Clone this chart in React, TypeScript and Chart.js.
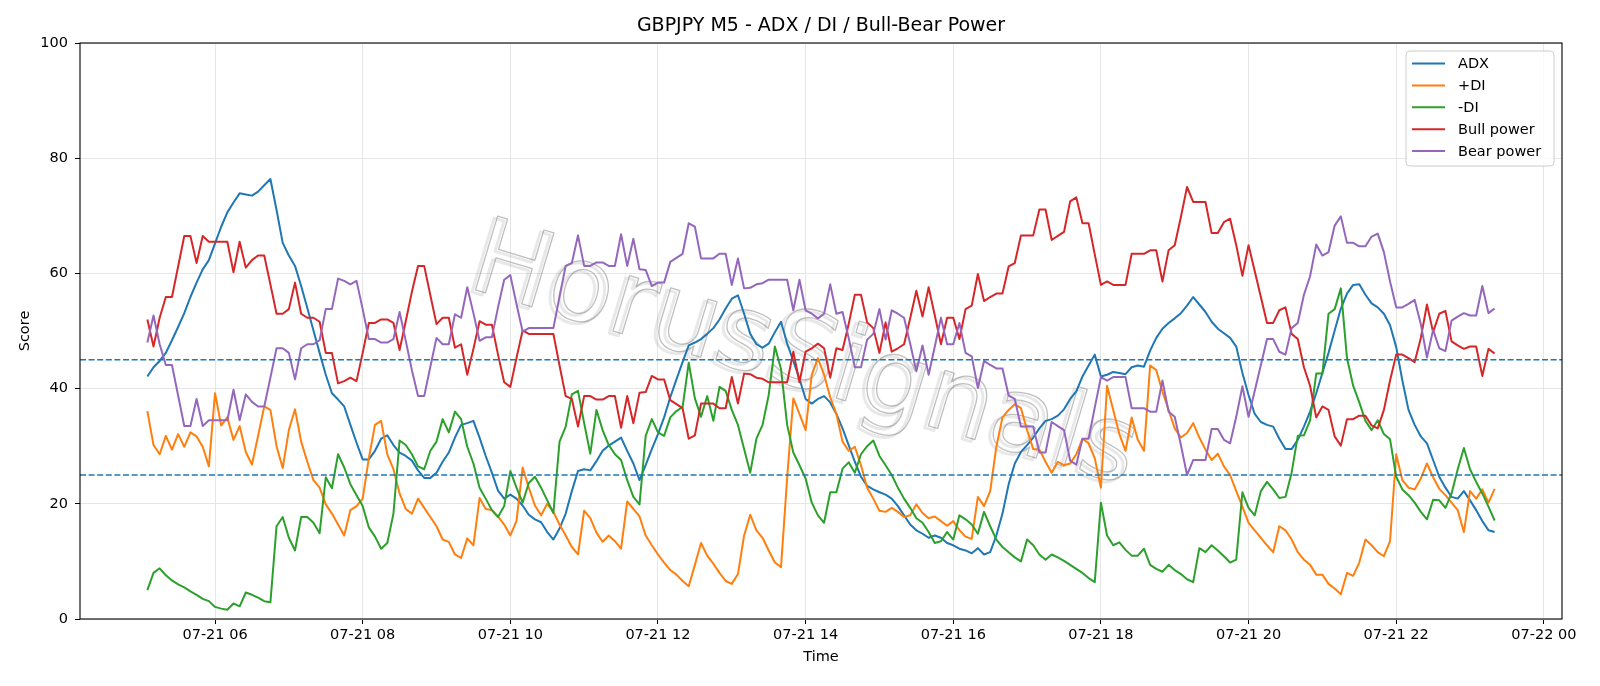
import React, { useEffect, useRef } from "react";
import { Chart, registerables } from "chart.js";

Chart.register(...registerables);

// ---- data -----------------------------------------------------------
const START_MINUTE = 5 * 60 + 5; // first bar 07-21 05:05
const STEP_MINUTES = 5; // M5

const xTickHours = [6, 8, 10, 12, 14, 16, 18, 20, 22, 24];
const xTickLabels = [
  "07-21 06", "07-21 08", "07-21 10", "07-21 12", "07-21 14",
  "07-21 16", "07-21 18", "07-21 20", "07-21 22", "07-22 00",
];
const thresholds = [25, 45];

const adx = [
  42.1, 43.7, 44.8, 46.2, 48.4, 50.7, 53.1, 55.9, 58.4, 60.7,
  62.3, 65.2, 68.1, 70.6, 72.3, 73.9, 73.7, 73.5, 74.2, 75.3,
  76.4, 71.0, 65.3, 63.1, 61.3,
  57.8, 54.0, 50.1, 46.2, 42.4, 39.2, 38.1, 36.9, 33.7, 30.6,
  27.7, 27.7, 29.2, 31.3, 31.9, 30.2, 28.9, 28.3, 27.5, 25.8,
  24.5, 24.5, 25.4, 27.3, 28.9,
  31.5, 33.7, 34.0, 34.4, 31.5, 28.3, 25.4, 22.3, 20.9, 21.6,
  20.9, 19.7, 18.1, 17.3, 16.8, 15.1, 13.8, 15.7, 18.3, 22.2,
  25.7, 26.0, 25.8, 27.4, 29.2, 30.1,
  30.8, 31.5, 29.2, 27.0, 24.1, 26.7, 29.5, 32.1, 35.0, 38.5,
  41.6, 44.6, 47.5, 48.0, 48.6, 49.5, 50.5, 52.0, 53.9, 55.6,
  56.2, 53.0, 49.5, 47.7, 47.1,
  47.8, 49.8, 51.6, 47.8, 44.8, 41.7, 38.2, 37.4, 38.2, 38.7,
  37.6, 35.6, 33.1, 30.2, 27.3, 24.7, 23.1, 22.5, 22.0, 21.6,
  20.9, 19.6, 18.0, 16.4, 15.4,
  14.8, 14.1, 14.5, 14.1, 13.2, 12.8, 12.2, 11.9, 11.4, 12.3,
  11.2, 11.6, 14.5, 18.3, 23.4, 27.0, 29.0, 30.2, 31.5, 33.1,
  34.4, 34.7, 35.3, 36.4, 38.2,
  39.5, 42.1, 44.0, 45.9, 42.1, 42.4, 42.9, 42.7, 42.5, 43.7,
  44.0, 43.8, 46.6, 48.8, 50.4, 51.4, 52.2, 53.1, 54.4, 55.9,
  54.6, 53.3, 51.6, 50.4, 49.6,
  48.8, 47.3, 42.7, 38.9, 35.6, 34.2, 33.7, 33.4, 31.3, 29.5,
  29.5, 31.1, 33.4, 36.0, 39.2, 42.7, 46.2, 50.1, 53.9, 56.5,
  58.0, 58.1, 56.3, 54.8, 54.1,
  53.0, 51.0, 47.2, 41.4, 36.3, 33.7, 31.7, 30.5, 27.6, 24.7,
  22.8, 21.2, 20.9, 22.2, 20.6, 18.9, 17.0, 15.4, 15.1,
];

const plusDI = [
  36.1, 30.2, 28.6, 31.8, 29.4, 32.1, 29.9, 32.4, 31.7, 29.9,
  26.5, 39.2, 33.6, 35.0, 31.1, 33.5, 29.0, 26.8, 31.8, 36.9,
  36.3, 30.0, 26.2, 32.8, 36.4,
  30.8, 27.3, 24.1, 22.8, 19.9, 18.3, 16.4, 14.5, 18.9, 19.6,
  20.9, 27.9, 33.7, 34.4, 28.6, 26.0, 21.8, 19.1, 18.3, 20.9,
  19.3, 17.7, 16.1, 13.8, 13.4,
  11.2, 10.6, 14.0, 12.8, 21.0, 19.1, 18.9, 17.8, 16.4, 14.5,
  17.0, 26.3, 22.8, 19.7, 18.0, 20.0, 18.6, 16.4, 14.5, 12.5,
  11.2, 18.8, 17.5, 15.0, 13.4, 14.5,
  13.5, 12.2, 20.4, 19.1, 17.8, 14.5, 12.8, 11.2, 9.8, 8.5,
  7.7, 6.6, 5.7, 9.4, 13.2, 11.0, 9.6, 8.0, 6.6, 6.1,
  7.8, 14.5, 18.1, 15.4, 14.1,
  11.9, 9.8, 9.0, 24.5, 38.3, 35.6, 32.8, 42.4, 45.3, 42.4,
  38.5, 35.6, 30.8, 29.2, 29.9, 26.7, 22.8, 20.9, 18.8, 18.6,
  19.3, 18.6, 17.7, 18.0, 19.9,
  18.4, 17.5, 17.8, 17.0, 16.2, 17.0, 15.4, 14.3, 13.9, 21.2,
  19.6, 22.2, 29.9, 35.0, 36.3, 37.3, 36.6, 32.8, 29.5, 29.4,
  27.3, 25.4, 27.3, 26.7, 27.0,
  28.6, 31.3, 30.5, 27.9, 22.8, 40.5, 36.3, 32.1, 29.2, 35.0,
  31.1, 29.2, 44.0, 43.2, 39.5, 36.3, 33.1, 31.5, 32.3, 34.0,
  31.5, 29.4, 27.6, 28.7, 26.5,
  25.0, 22.2, 19.5, 16.7, 15.4, 14.1, 12.8, 11.6, 16.1, 15.4,
  13.8, 11.6, 10.3, 9.4, 7.7, 7.7, 6.1, 5.3, 4.3, 8.0,
  7.5, 9.8, 13.8, 12.8, 11.6,
  10.9, 13.5, 28.6, 24.1, 22.8, 22.5, 24.4, 27.0, 24.6, 22.6,
  21.5, 20.2, 18.9, 15.1, 22.2, 20.9, 22.5, 20.2, 22.6,
];

const minusDI = [
  5.0, 8.0, 8.8, 7.6, 6.7, 6.0, 5.5, 4.8, 4.2, 3.5,
  3.1, 2.1, 1.8, 1.6, 2.7, 2.2, 4.6, 4.2, 3.7, 3.1,
  2.9, 16.1, 17.7, 14.1, 11.9,
  17.7, 17.7, 16.7, 14.9, 24.6, 22.7, 28.6, 26.3, 23.4, 21.5,
  19.6, 15.9, 14.3, 12.2, 13.2, 18.3, 31.0, 30.2, 28.6, 26.5,
  26.0, 29.2, 30.8, 34.7, 32.4,
  36.0, 34.7, 29.9, 27.0, 22.8, 20.9, 18.9, 17.7, 19.6, 25.7,
  22.8, 20.2, 23.6, 24.7, 22.8, 20.6, 18.4, 30.8, 33.4, 39.0,
  39.6, 34.0, 28.7, 36.3, 32.8, 30.2,
  28.6, 27.6, 24.1, 21.2, 19.9, 31.8, 34.7, 32.4, 31.8, 35.0,
  36.1, 36.8, 44.5, 38.3, 35.1, 38.7, 34.4, 40.3, 39.6, 36.3,
  33.7, 29.5, 25.4, 31.3, 33.7,
  38.9, 47.3, 43.4, 33.7, 28.9, 26.7, 24.4, 20.2, 18.0, 16.7,
  22.0, 22.0, 26.1, 27.2, 25.4, 28.6, 30.0, 31.0, 28.3, 26.7,
  25.0, 22.8, 20.9, 19.3, 17.5,
  16.7, 15.1, 13.2, 13.5, 15.1, 13.8, 18.0, 17.3, 16.4, 14.8,
  18.6, 16.1, 13.8, 12.5, 11.6, 10.7, 10.0, 13.8, 12.8, 11.2,
  10.3, 11.2, 10.7, 10.1, 9.4,
  8.7, 8.0, 7.1, 6.4, 20.2, 14.5, 12.8, 13.3, 12.0, 11.0,
  11.0, 12.2, 9.4, 8.7, 8.2, 9.4, 8.5, 7.8, 6.9, 6.4,
  12.3, 11.6, 12.8, 11.9, 10.9,
  9.8, 10.3, 22.0, 19.3, 18.0, 22.2, 23.8, 22.5, 21.0, 21.2,
  25.4, 31.8, 31.9, 34.5, 42.6, 42.6, 53.0, 53.8, 57.4, 45.3,
  40.5, 37.6, 34.4, 32.8, 34.5,
  32.1, 31.2, 24.7, 22.5, 21.5, 20.2, 18.6, 17.3, 20.7, 20.6,
  19.3, 21.8, 26.0, 29.7, 26.0, 23.8, 21.8, 19.5, 17.1,
];

const bullPower = [
  52.0, 47.3, 52.3, 55.9, 55.9, 61.2, 66.5, 66.5, 61.8, 66.5,
  65.5, 65.5, 65.5, 65.5, 60.2, 65.5, 61.0, 62.3, 63.1, 63.1,
  58.1, 53.0, 53.0, 53.8, 58.4,
  53.0, 52.3, 52.3, 51.6, 46.2, 46.2, 40.9, 41.3, 41.9, 41.3,
  46.2, 51.4, 51.4, 52.0, 52.0, 51.4, 46.7, 51.7, 56.8, 61.3,
  61.3, 56.2, 51.2, 52.3, 52.3,
  47.1, 47.7, 42.4, 46.9, 51.7, 51.1, 51.1, 45.9, 41.1, 40.3,
  45.3, 50.1, 49.5, 49.5, 49.5, 49.5, 49.5, 44.0, 38.7, 38.2,
  33.4, 38.7, 38.7, 38.1, 38.1, 38.7,
  38.7, 33.2, 38.7, 34.0, 39.3, 39.4, 42.2, 41.6, 41.6, 38.0,
  37.3, 36.6, 31.3, 31.9, 37.4, 37.4, 37.4, 36.6, 36.6, 42.0,
  37.4, 42.6, 42.5, 41.9, 41.7,
  41.1, 41.1, 41.1, 41.1, 46.4, 41.1, 46.4, 47.0, 47.8, 47.0,
  41.9, 47.0, 46.7, 51.2, 56.3, 56.3, 51.5, 50.5, 46.2, 51.5,
  46.4, 47.0, 47.7, 52.2, 57.0,
  52.5, 57.6, 52.7, 47.7, 52.3, 52.3, 48.6, 53.8, 54.4, 59.9,
  55.2, 55.9, 56.5, 56.5, 61.2, 61.8, 66.6, 66.6, 66.6, 71.1,
  71.1, 65.8, 66.5, 67.2, 72.5,
  73.2, 68.7, 68.7, 63.3, 58.0, 58.6, 58.0, 58.0, 58.0, 63.4,
  63.4, 63.4, 64.0, 64.0, 58.6, 64.0, 64.9, 69.8, 75.0, 72.4,
  72.4, 72.4, 67.0, 67.0, 68.9,
  69.5, 64.9, 59.6, 64.9, 60.4, 55.9, 51.4, 51.4, 53.6, 54.1,
  49.5, 48.6, 43.7, 40.5, 35.0, 36.9, 36.3, 31.7, 30.1, 34.7,
  34.7, 35.3, 35.3, 33.6, 33.1,
  36.3, 41.4, 45.9, 45.9, 45.3, 44.6, 48.8, 54.6, 49.8, 53.0,
  53.5, 48.2, 47.5, 46.9, 47.3, 47.3, 42.2, 46.9, 46.1,
];

const bearPower = [
  48.0, 52.7, 47.7, 44.1, 44.1, 38.8, 33.5, 33.5, 38.2, 33.5,
  34.5, 34.5, 34.5, 34.5, 39.8, 34.5, 39.0, 37.7, 36.9, 36.9,
  41.9, 47.0, 47.0, 46.2, 41.6,
  47.0, 47.7, 47.7, 48.4, 53.8, 53.8, 59.1, 58.7, 58.1, 58.7,
  53.8, 48.6, 48.6, 48.0, 48.0, 48.6, 53.3, 48.3, 43.2, 38.7,
  38.7, 43.8, 48.8, 47.7, 47.7,
  52.9, 52.3, 57.6, 53.1, 48.3, 48.9, 48.9, 54.1, 58.9, 59.7,
  54.7, 49.9, 50.5, 50.5, 50.5, 50.5, 50.5, 56.0, 61.3, 61.8,
  66.6, 61.3, 61.3, 61.9, 61.9, 61.3,
  61.3, 66.8, 61.3, 66.0, 60.7, 60.6, 57.8, 58.4, 58.4, 62.0,
  62.7, 63.4, 68.7, 68.1, 62.6, 62.6, 62.6, 63.4, 63.4, 58.0,
  62.6, 57.4, 57.5, 58.1, 58.3,
  58.9, 58.9, 58.9, 58.9, 53.6, 58.9, 53.6, 53.0, 52.2, 53.0,
  58.1, 53.0, 53.3, 48.8, 43.7, 43.7, 48.5, 49.5, 53.8, 48.5,
  53.6, 53.0, 52.3, 47.8, 43.0,
  47.5, 42.4, 47.3, 52.3, 47.7, 47.7, 51.4, 46.2, 45.6, 40.1,
  44.8, 44.1, 43.5, 43.5, 38.8, 38.2, 33.4, 33.4, 33.4, 28.9,
  28.9, 34.2, 33.5, 32.8, 27.5,
  26.8, 31.3, 31.3, 36.7, 42.0, 41.4, 42.0, 42.0, 42.0, 36.6,
  36.6, 36.6, 36.0, 36.0, 41.4, 36.0, 35.1, 30.2, 25.0, 27.6,
  27.6, 27.6, 33.0, 33.0, 31.1,
  30.5, 35.1, 40.4, 35.1, 39.6, 44.1, 48.6, 48.6, 46.4, 45.9,
  50.5, 51.4, 56.3, 59.5, 65.0, 63.1, 63.7, 68.3, 69.9, 65.3,
  65.3, 64.7, 64.7, 66.4, 66.9,
  63.7, 58.6, 54.1, 54.1, 54.7, 55.4, 51.2, 45.4, 50.2, 47.0,
  46.5, 51.8, 52.5, 53.1, 52.7, 52.7, 57.8, 53.1, 53.9,
];

const seriesNames = ["ADX", "+DI", "-DI", "Bull power", "Bear power"];
const seriesColors = ["#1f77b4", "#ff7f0e", "#2ca02c", "#d62728", "#9467bd"];
const seriesValues = [adx, plusDI, minusDI, bullPower, bearPower];

const TITLE = "GBPJPY M5 - ADX / DI / Bull-Bear Power";
const WATERMARK = "HorusSignals";

// time of each bar in hours since 07-21 00:00
const timeHours = adx.map((_, i) => (START_MINUTE + i * STEP_MINUTES) / 60);
const spanH = timeHours[timeHours.length - 1] - timeHours[0];
const X_MIN = timeHours[0] - spanH * 0.05;
const X_MAX = timeHours[timeHours.length - 1] + spanH * 0.05;

const FONT = '"DejaVu Sans", "Liberation Sans", sans-serif';
const TICK_PX = 14.5;

const decorPlugin = {
  id: "decor",
  beforeDatasetsDraw(chart: any) {
    const { ctx, chartArea: a } = chart;
    ctx.save();
    ctx.beginPath();
    ctx.rect(a.left, a.top, a.right - a.left, a.bottom - a.top);
    ctx.clip();
    ctx.font = `100px ${FONT}`;
    const w = ctx.measureText(WATERMARK).width;
    const size = (100 * 690) / w;
    ctx.font = `${size}px ${FONT}`;
    ctx.translate(796, 386);
    ctx.rotate((16.7 * Math.PI) / 180);
    ctx.textAlign = "center";
    ctx.textBaseline = "alphabetic";
    ctx.lineJoin = "round";
    ctx.lineWidth = 3;
    ctx.strokeStyle = "rgba(0,0,0,0.09)";
    ctx.strokeText(WATERMARK, -3, 3);
    ctx.lineWidth = 1.3;
    ctx.strokeStyle = "rgba(130,130,130,0.5)";
    ctx.strokeText(WATERMARK, 0, 0);
    ctx.restore();
  },
  afterDatasetsDraw(chart: any) {
    const { ctx, chartArea: a, scales } = chart;
    const ys = scales.y;
    ctx.save();
    ctx.strokeStyle = "#1f77b4";
    ctx.lineWidth = 1.5;
    ctx.setLineDash([6, 2.6]);
    thresholds.forEach((t) => {
      const y = ys.getPixelForValue(t);
      ctx.beginPath();
      ctx.moveTo(a.left, y);
      ctx.lineTo(a.right, y);
      ctx.stroke();
    });
    ctx.setLineDash([]);
    // spines
    ctx.strokeStyle = "#000";
    ctx.lineWidth = 1.1;
    ctx.strokeRect(a.left, a.top, a.right - a.left, a.bottom - a.top);
    ctx.restore();
  },
  afterDraw(chart: any) {
    const { ctx, chartArea: a } = chart;
    const cx = (a.left + a.right) / 2;
    ctx.save();
    ctx.fillStyle = "#000";
    ctx.textAlign = "center";
    ctx.textBaseline = "middle";
    ctx.font = `19px ${FONT}`;
    ctx.fillText(TITLE, cx, 26.5);
    ctx.font = `${TICK_PX}px ${FONT}`;
    ctx.fillText("Time", cx, 657.5);
    ctx.save();
    ctx.translate(25, (a.top + a.bottom) / 2);
    ctx.rotate(-Math.PI / 2);
    ctx.fillText("Score", 0, 0);
    ctx.restore();

    // legend
    const bx = 1406, by = 51, bw = 148, bh = 115, r = 4;
    ctx.beginPath();
    ctx.moveTo(bx + r, by);
    ctx.lineTo(bx + bw - r, by);
    ctx.quadraticCurveTo(bx + bw, by, bx + bw, by + r);
    ctx.lineTo(bx + bw, by + bh - r);
    ctx.quadraticCurveTo(bx + bw, by + bh, bx + bw - r, by + bh);
    ctx.lineTo(bx + r, by + bh);
    ctx.quadraticCurveTo(bx, by + bh, bx, by + bh - r);
    ctx.lineTo(bx, by + r);
    ctx.quadraticCurveTo(bx, by, bx + r, by);
    ctx.closePath();
    ctx.fillStyle = "rgba(255,255,255,0.8)";
    ctx.fill();
    ctx.strokeStyle = "#cccccc";
    ctx.lineWidth = 1;
    ctx.stroke();
    ctx.textAlign = "left";
    ctx.textBaseline = "middle";
    seriesNames.forEach((name, k) => {
      const y = 63.5 + k * 21.9;
      ctx.strokeStyle = seriesColors[k];
      ctx.lineWidth = 2;
      ctx.beginPath();
      ctx.moveTo(1412, y);
      ctx.lineTo(1445, y);
      ctx.stroke();
      ctx.fillStyle = "#000";
      ctx.fillText(name, 1458, y + 1);
    });
    ctx.restore();
  },
};

export default function App() {
  const ref = useRef<HTMLCanvasElement | null>(null);

  useEffect(() => {
    if (!ref.current) return;
    const datasets = seriesValues.map((vals, k) => ({
      label: seriesNames[k],
      data: vals.map((v, i) => ({ x: timeHours[i], y: v })),
      borderColor: seriesColors[k],
      backgroundColor: seriesColors[k],
      borderWidth: 2,
      pointRadius: 0,
      tension: 0,
      borderJoinStyle: "round" as const,
      order: seriesValues.length - k,
    }));
    const chart = new Chart(ref.current, {
      type: "line",
      data: { datasets },
      options: {
        animation: false,
        responsive: false,
        maintainAspectRatio: false,
        layout: { padding: { top: 43, right: 38, bottom: 0, left: 0 } },
        plugins: {
          legend: { display: false },
          title: { display: false },
          tooltip: { enabled: false },
        },
        scales: {
          x: {
            type: "linear",
            min: X_MIN,
            max: X_MAX,
            afterFit: (s: any) => {
              s.height = 67;
            },
            afterBuildTicks: (s: any) => {
              s.ticks = xTickHours.map((v) => ({ value: v }));
            },
            ticks: {
              autoSkip: false,
              maxRotation: 0,
              padding: 3,
              color: "#000",
              font: { family: FONT, size: TICK_PX },
              callback: (v: any) => {
                const idx = xTickHours.indexOf(Number(v));
                return idx >= 0 ? xTickLabels[idx] : "";
              },
            },
            grid: {
              color: "#e6e6e6",
              lineWidth: 1,
              tickColor: "#000",
              tickLength: 5,
              tickWidth: 1,
            },
            border: { display: false },
          },
          y: {
            min: 0,
            max: 100,
            afterFit: (s: any) => {
              s.width = 80;
            },
            ticks: {
              stepSize: 20,
              padding: 7,
              color: "#000",
              font: { family: FONT, size: TICK_PX },
            },
            grid: {
              color: "#e6e6e6",
              lineWidth: 1,
              tickColor: "#000",
              tickLength: 5,
              tickWidth: 1,
            },
            border: { display: false },
          },
        },
      },
      plugins: [decorPlugin],
    });
    return () => chart.destroy();
  }, []);

  return (
    <div
      style={{
        position: "fixed",
        left: 0,
        top: 0,
        width: 1600,
        height: 686,
        background: "#fff",
      }}
    >
      <canvas ref={ref} width={1600} height={686} style={{ display: "block" }} />
    </div>
  );
}
